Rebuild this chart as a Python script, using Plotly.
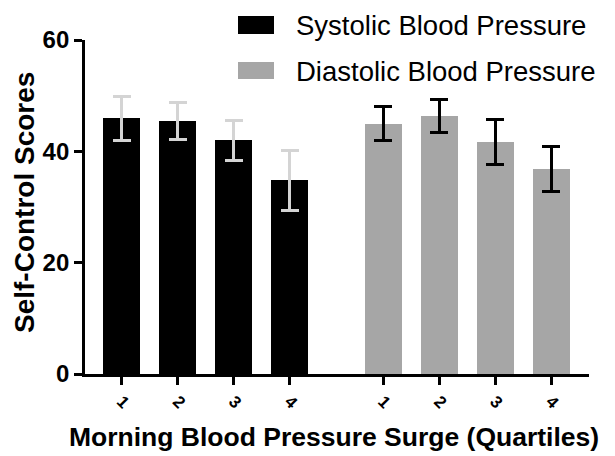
import plotly.graph_objects as go

quartiles = ["1", "2", "3", "4"]
sbp_scores = [45.9, 45.4, 42.0, 34.8]
sbp_err = [4.0, 3.3, 3.6, 5.4]
dbp_scores = [45.0, 46.4, 41.7, 36.8]
dbp_err = [3.0, 3.0, 4.1, 4.0]
series_names = ["Systolic Blood Pressure", "Diastolic Blood Pressure"]

group_gap = 1.667
x_sbp = [i + 1 for i in range(len(quartiles))]
x_dbp = [i + 1 + len(quartiles) - 1 + group_gap for i in range(len(quartiles))]

FONT = "Liberation Sans, Arial, sans-serif"
BLACK = "#000000"
GRAY = "#a6a6a6"
LIGHT = "#d4d4d4"

# page body adds an 8px offset; design in reference pixel space
OFF = 8
W, H = 615 - OFF, 456 - OFF
L, R, T, B = 85 - OFF, 26, 40 - OFF, 82
pw, ph = W - L - R, H - T - B

def px(x):
    return (x - OFF - L) / pw

def py(y):
    return (H - B - (y - OFF)) / ph

fig = go.Figure()
fig.add_trace(go.Bar(
    x=x_sbp, y=sbp_scores, width=0.66, name=series_names[0],
    marker=dict(color=BLACK, line=dict(width=0)),
    error_y=dict(type="data", array=sbp_err, color=LIGHT, thickness=3, width=9),
    showlegend=False,
))
fig.add_trace(go.Bar(
    x=x_dbp, y=dbp_scores, width=0.66, name=series_names[1],
    marker=dict(color=GRAY, line=dict(width=0)),
    error_y=dict(type="data", array=dbp_err, color=BLACK, thickness=3, width=9),
    showlegend=False,
))

shapes = [
    dict(type="rect", xref="paper", yref="paper", x0=px(238), x1=px(274), y0=py(34), y1=py(16),
         fillcolor=BLACK, line=dict(width=0)),
    dict(type="rect", xref="paper", yref="paper", x0=px(238), x1=px(274), y0=py(79), y1=py(62),
         fillcolor=GRAY, line=dict(width=0)),
]
annotations = [
    dict(text=series_names[0], xref="paper", yref="paper", x=px(294), y=py(25),
         xanchor="left", yanchor="middle", showarrow=False,
         font=dict(family=FONT, size=27.5, color=BLACK)),
    dict(text=series_names[1], xref="paper", yref="paper", x=px(294), y=py(71),
         xanchor="left", yanchor="middle", showarrow=False,
         font=dict(family=FONT, size=27.5, color=BLACK)),
    dict(text="<b>Morning Blood Pressure Surge (Quartiles)</b>", xref="paper", yref="paper",
         x=px(334), y=py(437), xanchor="center", yanchor="middle", showarrow=False,
         font=dict(family=FONT, size=26.5, color=BLACK)),
    dict(text="<b>Self-Control Scores</b>", xref="paper", yref="paper",
         x=px(24), y=py(203), xanchor="center", yanchor="middle", showarrow=False,
         textangle=-90, font=dict(family=FONT, size=28, color=BLACK)),
]

fig.update_layout(
    width=W, height=H,
    margin=dict(l=L, r=R, t=T, b=B),
    plot_bgcolor="white", paper_bgcolor="white",
    shapes=shapes, annotations=annotations,
    bargap=0,
    xaxis=dict(
        range=[0.345, 9.345], tickmode="array",
        tickvals=x_sbp + x_dbp, ticktext=quartiles + quartiles,
        tickangle=45, ticks="outside", ticklen=8, tickwidth=2.5, tickcolor=BLACK,
        showline=True, linewidth=2.8, linecolor=BLACK, showgrid=False, zeroline=False,
        tickfont=dict(family=FONT, size=17, color=BLACK, weight="bold"),
    ),
    yaxis=dict(
        range=[0, 60], tickvals=[0, 20, 40, 60],
        ticks="outside", ticklen=8, tickwidth=2.5, tickcolor=BLACK,
        showline=True, linewidth=2.8, linecolor=BLACK, showgrid=False, zeroline=False,
        tickfont=dict(family=FONT, size=24, color=BLACK, weight="bold"),
    ),
)

fig.write_html("out.html")
